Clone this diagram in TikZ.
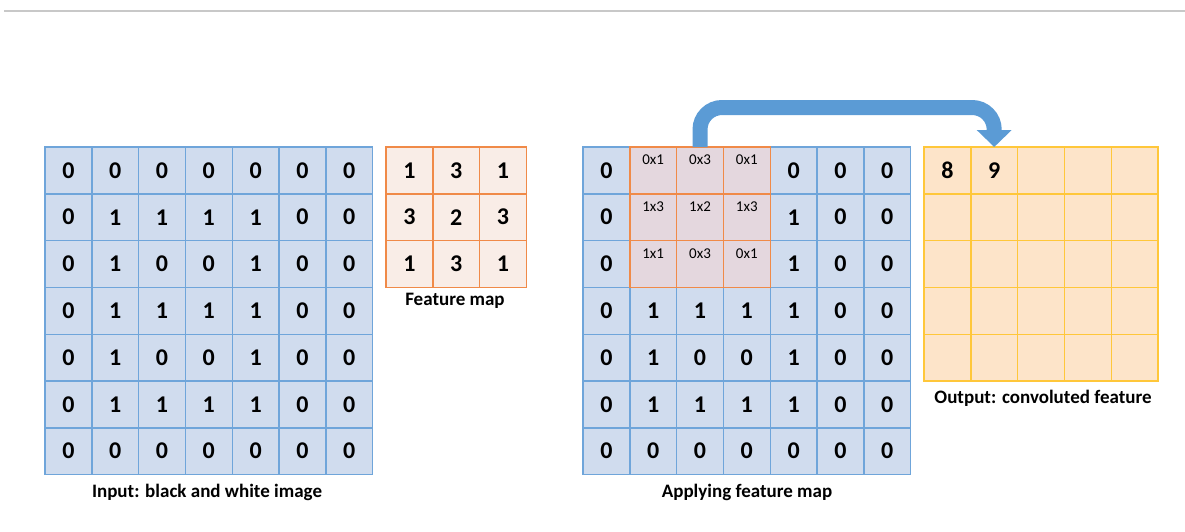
\documentclass[tikz,border=0pt]{standalone}
\usepackage{fontspec}
\setmainfont{Carlito}
\usetikzlibrary{arrows.meta}

\definecolor{cellblue}{HTML}{D0DCEE}
\definecolor{lineblue}{HTML}{6FA5DA}
\definecolor{cellpeach}{HTML}{F9EDE7}
\definecolor{lineorange}{HTML}{F08A48}
\definecolor{cellmauve}{HTML}{E4D7DE}
\definecolor{cellcream}{HTML}{FDE4C9}
\definecolor{linegold}{HTML}{FFC73A}
\definecolor{arrowblue}{HTML}{5B9BD5}
\definecolor{rulegray}{HTML}{C8C8C8}

\tikzset{
  cell/.style={minimum size=46.8pt, inner sep=0pt, outer sep=0pt, line width=1.4pt,
    font=\fontsize{24}{28}\selectfont\bfseries},
  incell/.style={cell, draw=lineblue, fill=cellblue},
  kercell/.style={cell, draw=lineorange, fill=cellpeach},
  wincell/.style={cell, draw=lineorange, fill=cellmauve,
    font=\fontsize{15}{17}\selectfont, text height=11pt, text depth=22pt},
  outcell/.style={cell, draw=linegold, fill=cellcream},
  caption/.style={font=\fontsize{19}{22}\selectfont\bfseries},
  bigarrow/.style={draw=arrowblue, line width=15pt, rounded corners=22pt,
    -{Triangle[width=34pt,length=17pt]}}
}

\begin{document}
\begin{tikzpicture}[x=1pt, y=-1pt]
    \useasboundingbox (0,0) rectangle (1185,531);
    \draw[rulegray, line width=2pt] (4,11) -- (1185,11);

    % input image
    \foreach \row [count=\r from 0] in {{0,0,0,0,0,0,0},{0,1,1,1,1,0,0},{0,1,0,0,1,0,0},
        {0,1,1,1,1,0,0},{0,1,0,0,1,0,0},{0,1,1,1,1,0,0},{0,0,0,0,0,0,0}}
        \foreach \v [count=\c from 0] in \row
            \node[incell] (in-\r-\c) at (68.4+46.8*\c, 170.4+46.8*\r) {\v};

    % feature map
    \foreach \row [count=\r from 0] in {{1,3,1},{3,2,3},{1,3,1}}
        \foreach \v [count=\c from 0] in \row
            \node[kercell] (ker-\r-\c) at (409.4+46.8*\c, 170.4+46.8*\r) {\v};

    % applying the feature map
    \foreach \row [count=\r from 0] in {{0,0,0,0,0,0,0},{0,1,1,1,1,0,0},{0,1,0,0,1,0,0},
        {0,1,1,1,1,0,0},{0,1,0,0,1,0,0},{0,1,1,1,1,0,0},{0,0,0,0,0,0,0}}
        \foreach \v [count=\c from 0] in \row {
            \pgfmathtruncatemacro\inwin{(\r<3)&&(\c>0)&&(\c<4)}
            \ifnum\inwin=0
                \node[incell] (ap-\r-\c) at (606.4+46.8*\c, 170.4+46.8*\r) {\v};
            \fi
        }
    \foreach \row [count=\r from 0] in {{0x1,0x3,0x1},{1x3,1x2,1x3},{1x1,0x3,0x1}}
        \foreach \v [count=\c from 1] in \row
            \node[wincell] (ap-\r-\c) at (606.4+46.8*\c, 170.4+46.8*\r) {\v};

    % output
    \foreach \row [count=\r from 0] in {{8,9,{},{},{}},{{},{},{},{},{}},{{},{},{},{},{}},
        {{},{},{},{},{}},{{},{},{},{},{}}}
        \foreach \v [count=\c from 0] in \row
            \node[outcell] (out-\r-\c) at (947.4+46.8*\c, 170.4+46.8*\r) {\v};

    \coordinate (turn) at (0,107.5);
    \draw[bigarrow] (ap-0-2.north) -- (ap-0-2.north |- turn)
        -- (out-0-1.north |- turn) -- (out-0-1.north);

    \node[caption] (in-cap)  at (207,492)  {Input: black and white image};
    \node[caption] (ker-cap) at (455,301)  {Feature map};
    \node[caption] (ap-cap)  at (747,492)  {Applying feature map};
    \node[caption] (out-cap) at (1043,398) {Output: convoluted feature};
\end{tikzpicture}
\end{document}
